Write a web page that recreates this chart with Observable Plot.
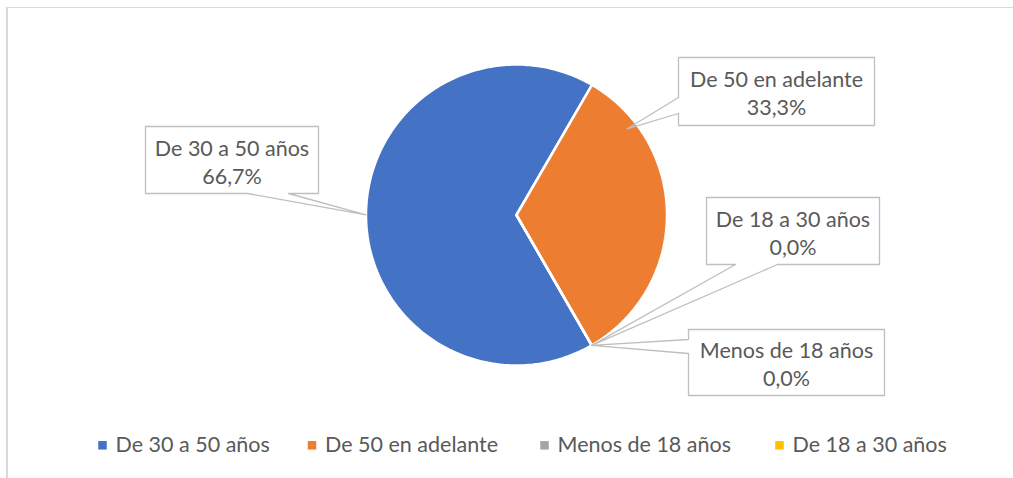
<!DOCTYPE html>
<html><head><meta charset="utf-8">
<script src="https://cdn.jsdelivr.net/npm/d3@7"></script>
<script src="https://cdn.jsdelivr.net/npm/@observablehq/plot@0.6"></script>
<style>
body{margin:0;background:#fff;overflow:hidden;}
#frame{position:absolute;left:6px;top:7px;width:1100px;height:600px;border-top:1.5px solid #d9d9d9;border-left:2px solid #d9d9d9;}
#chart{position:absolute;left:0;top:0;}
</style></head><body>
<div id="frame"></div><div id="chart"></div>
<script>
// ---- data ----
const categories = ["De 30 a 50 años", "De 50 en adelante", "Menos de 18 años", "De 18 a 30 años"];
const percents = [66.7, 33.3, 0.0, 0.0];
const percentLabels = ["66,7%", "33,3%", "0,0%", "0,0%"];
const colors = ["#4472C4", "#ED7D31", "#A5A5A5", "#FFC000"];

// ---- layout ----
const W = 1013, H = 478;
const FONT = 21.5;
const pieLayout = {cx: 516, cy: 214.5, r: 150.5, firstAngle: 150};
const callouts = [
  {box: [145, 126, 318, 193], edge: "bottom", base: [247, 288], dAngle: 0, rf: 1},
  {box: [678, 57, 874, 125], edge: "left", base: [97, 113], dAngle: -38, rf: 0.93},
  {box: [688, 329, 884, 395], edge: "left", base: [339, 353], dAngle: 0, rf: 1},
  {box: [706, 197, 879, 264], edge: "bottom", base: [735, 777], dAngle: 0, rf: 1}
];
const legendX = [102, 311.5, 544, 779];
const legendY = 444.8;

const rows = categories.map((c, i) => ({category: c, value: percents[i], label: percentLabels[i], i}));
const deg = Math.PI / 180;
const arcs = d3.pie().sort(null).value(d => d.value)
  .startAngle(pieLayout.firstAngle * deg).endAngle(pieLayout.firstAngle * deg + 2 * Math.PI)(rows);

const px = (a, r) => pieLayout.cx + r * Math.sin(a);
const py = (a, r) => pieLayout.cy - r * Math.cos(a);

// slice polygons from pie angles
const slicePts = [];
arcs.forEach(a => {
  const n = Math.max(2, Math.ceil((a.endAngle - a.startAngle) / deg));
  slicePts.push({category: a.data.category, x: pieLayout.cx, y: pieLayout.cy});
  for (let k = 0; k <= n; k++) {
    const t = a.startAngle + (a.endAngle - a.startAngle) * k / n;
    slicePts.push({category: a.data.category, x: px(t, pieLayout.r), y: py(t, pieLayout.r)});
  }
  slicePts.push({category: a.data.category, x: pieLayout.cx, y: pieLayout.cy});
});

// callout outlines
const outlinePts = [];
const boxes = [];
const labels = [];
arcs.forEach((a, i) => {
  const c = callouts[i];
  const [x0, y0, x1, y1] = c.box;
  const mid = (a.startAngle + a.endAngle) / 2 + c.dAngle * deg;
  const tip = [px(mid, pieLayout.r * c.rf), py(mid, pieLayout.r * c.rf)];
  let pts;
  if (c.edge === "bottom") {
    pts = [[x0, y0], [x1, y0], [x1, y1], [c.base[1], y1], tip, [c.base[0], y1], [x0, y1], [x0, y0]];
  } else {
    pts = [[x0, y0], [x1, y0], [x1, y1], [x0, y1], [x0, c.base[1]], tip, [x0, c.base[0]], [x0, y0]];
  }
  pts.forEach(p => outlinePts.push({id: i, x: p[0], y: p[1]}));
  boxes.push({x1: x0, x2: x1, y1: y0, y2: y1});
  labels.push({x: (x0 + x1) / 2, y: (y0 + y1) / 2 + 0.9, text: a.data.category + "\n" + a.data.label});
});

const legend = rows.map((d, i) => ({category: d.category, x: legendX[i], y: legendY}));

const plot = Plot.plot({
  width: W, height: H, margin: 0,
  x: {domain: [0, W], range: [0, W], axis: null},
  y: {domain: [0, H], range: [0, H], axis: null},
  color: {domain: categories, range: colors},
  style: {fontFamily: "Lato, 'Open Sans', sans-serif", background: "transparent", overflow: "visible"},
  marks: [
    Plot.line(slicePts, {x: "x", y: "y", z: "category", fill: "category", stroke: "white", strokeWidth: 2.5, strokeLinejoin: "miter", curve: "linear"}),
    Plot.rect(boxes, {x1: "x1", x2: "x2", y1: "y1", y2: "y2", fill: "white", inset: 0}),
    Plot.line(outlinePts, {x: "x", y: "y", z: "id", stroke: "#bfbfbf", strokeWidth: 1.3, fill: "none", curve: "linear"}),
    Plot.text(labels, {x: "x", y: "y", text: "text", fill: "#595959", fontSize: FONT, lineHeight: 1.3, textAnchor: "middle", lineAnchor: "middle"}),
    Plot.dot(legend, {x: "x", y: "y", fill: "category", symbol: "square", r: 4.8, stroke: "none"}),
    Plot.text(legend, {x: d => d.x + 13, y: d => d.y, text: "category", fill: "#595959", fontSize: FONT, textAnchor: "start"})
  ]
});
document.getElementById("chart").appendChild(plot);
</script>
</body></html>
